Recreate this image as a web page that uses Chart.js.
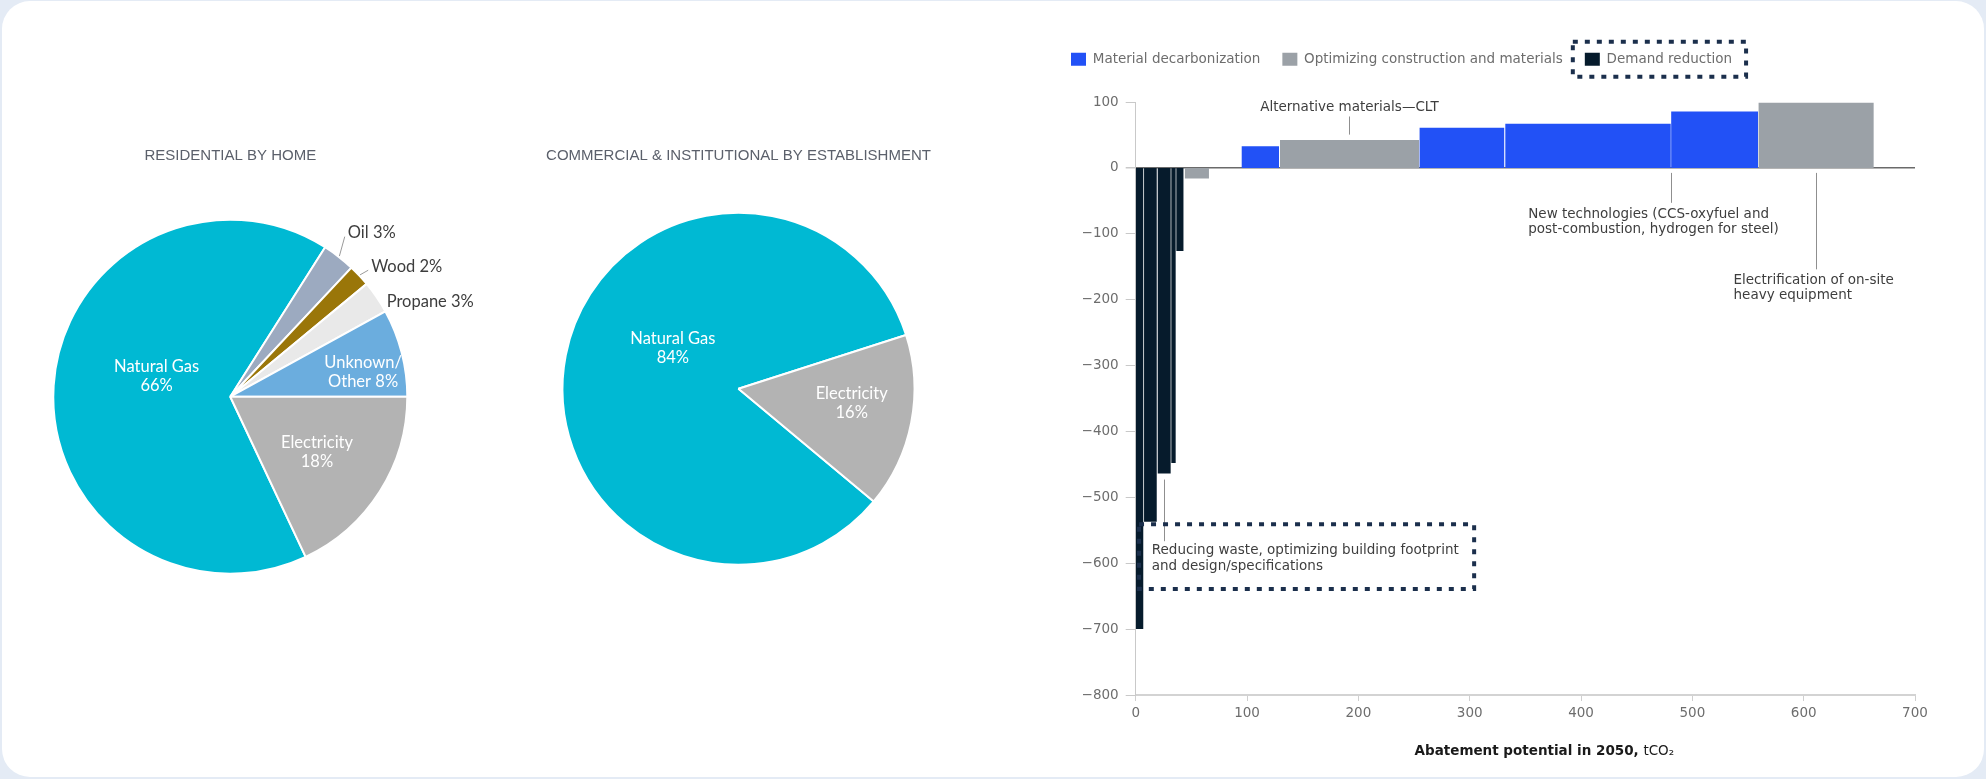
<!DOCTYPE HTML>
<html>
<head>
  <meta charset="utf-8">
  <script src="https://cdn.jsdelivr.net/npm/chart.js"></script>
  <style>
    body { margin: 0; width: 1986px; height: 779px; overflow: hidden; background: #e4ebf5; }
    .card { position: absolute; left: 2px; top: 1px; right: 2px; bottom: 2px; background: #fff; border-radius: 28px; }
    canvas { position: absolute; }
  </style>
  <script>
    // Heating fuel shares, residential (by home)
    const resLabels = ['Natural Gas', 'Oil', 'Wood', 'Propane', 'Unknown/Other', 'Electricity'];
    const resShares = [66, 3, 2, 3, 8, 18];
    const resColors = ['#00b9d3', '#9caac0', '#9a7609', '#e9e9e9', '#6badde', '#b3b3b3'];

    // Heating fuel shares, commercial & institutional (by establishment)
    const comLabels = ['Natural Gas', 'Electricity'];
    const comShares = [84, 16];
    const comColors = ['#00b9d3', '#b3b3b3'];

    // Abatement levers: lever group, start and end on the abatement axis, cost per tCO2
    const leverGroups = ['Material decarbonization', 'Optimizing construction and materials', 'Demand reduction'];
    const groupColors = ['#2251f6', '#9ba1a7', '#061b2c'];
    const barGroup = [2, 2, 2, 2, 2, 1, 0, 1, 0, 0, 0, 1];
    const barFrom  = [0, 7.5, 19.8, 32, 36.5, 44, 95, 129.6, 255, 332, 481, 559.5];
    const barTo    = [6.8, 18.9, 31.4, 35.9, 43.1, 65.8, 128.7, 254.5, 331, 480.6, 559, 663];
    const barValue = [-700, -537, -464, -448, -126, -16, 33, 42.5, 61, 67, 85.5, 99];

    const yTicks = [100, 0, -100, -200, -300, -400, -500, -600, -700, -800];

    // callouts placed in axis units
    const notes = [
      { lines: ['Alternative materials\u2014CLT'], x: 192, y: 91, align: 'center', at: 192, from: 50.5, to: 78 },
      { lines: ['New technologies (CCS-oxyfuel and', 'post-combustion, hydrogen for steel)'], x: 352.6, y: -70, align: 'left', at: 480.6, from: -7.6, to: -53 },
      { lines: ['Electrification of on-site', 'heavy equipment'], x: 537, y: -170.6, align: 'left', at: 611.5, from: -7.6, to: -154 },
      { lines: ['Reducing waste, optimizing building footprint', 'and design/specifications'], x: 14.4, y: -580.7, align: 'left', at: 25.6, from: -473, to: -566.6 }
    ];

    const BAR_FONT = '"DejaVu Sans"';

    function sliceLabels(place) {
      return {
        id: 'sliceLabels',
        afterDatasetsDraw(chart) {
          const ctx = chart.ctx;
          const arcs = chart.getDatasetMeta(0).data;
          const names = chart.data.labels;
          const shares = chart.data.datasets[0].data;
          ctx.save();
          ctx.font = '16.5px Lato';
          ctx.textBaseline = 'middle';
          arcs.forEach((arc, i) => {
            const p = place[i];
            const mid = (arc.startAngle + arc.endAngle) / 2;
            const ang = mid + p.shift * Math.PI / 180;
            const tx = arc.x + Math.cos(ang) * arc.outerRadius * p.r;
            const ty = arc.y + Math.sin(ang) * arc.outerRadius * p.r;
            let lines;
            if (p.mode === 'stack') {
              lines = [names[i], shares[i] + '%'];
            } else if (p.mode === 'wrap') {
              const parts = names[i].split('/');
              lines = [parts[0] + '/', parts[1] + ' ' + shares[i] + '%'];
            } else {
              lines = [names[i] + ' ' + shares[i] + '%'];
            }
            if (p.mode === 'out') {
              ctx.fillStyle = '#3d3d3d';
              ctx.textAlign = 'left';
              if (p.leader) {
                ctx.strokeStyle = '#9a9a9a';
                ctx.lineWidth = 1;
                ctx.beginPath();
                ctx.moveTo(arc.x + Math.cos(mid) * (arc.outerRadius + 1), arc.y + Math.sin(mid) * (arc.outerRadius + 1));
                ctx.lineTo(tx - 3, ty + 4);
                ctx.stroke();
              }
            } else {
              ctx.fillStyle = '#ffffff';
              ctx.textAlign = 'center';
            }
            lines.forEach((t, k) => ctx.fillText(t, tx, ty + (k - (lines.length - 1) / 2) * 19));
          });
          ctx.restore();
        }
      };
    }

    function pieOptions(title, rotation, padding, titleBottom) {
      return {
        responsive: false,
        animation: false,
        events: [],
        rotation: rotation,
        layout: { padding: padding },
        elements: { arc: { borderColor: '#ffffff', borderWidth: 2, offset: 0, hoverOffset: 0 } },
        plugins: {
          legend: { display: false },
          tooltip: { enabled: false },
          title: {
            display: true,
            text: title,
            color: '#5b606b',
            font: { family: '"Liberation Sans"', size: 15, weight: 'normal' },
            padding: { top: 7.3, bottom: titleBottom }
          }
        }
      };
    }

    function drawPies() {
      new Chart(document.getElementById('resPie'), {
        type: 'pie',
        data: { labels: resLabels, datasets: [{ data: resShares, backgroundColor: resColors }] },
        options: pieOptions('RESIDENTIAL BY HOME', 90 + 3.6 * 18, { left: 32.3, right: 91.7, top: 0, bottom: 5.3 }, 53.4),
        plugins: [sliceLabels([
          { mode: 'stack', r: 0.432, shift: 11.9 },
          { mode: 'out', r: 1.14, shift: -2.2, leader: true },
          { mode: 'out', r: 1.085, shift: 0.4, leader: true },
          { mode: 'out', r: 1.035, shift: 2.8 },
          { mode: 'wrap', r: 0.763, shift: 3.9 },
          { mode: 'stack', r: 0.58, shift: 0 }
        ])]
      });

      new Chart(document.getElementById('comPie'), {
        type: 'pie',
        data: { labels: comLabels, datasets: [{ data: comShares, backgroundColor: comColors }] },
        options: pieOptions('COMMERCIAL & INSTITUTIONAL BY ESTABLISHMENT', 129.8, { left: 0, right: 0, top: 0, bottom: 14.2 }, 46.5),
        plugins: [sliceLabels([
          { mode: 'stack', r: 0.44, shift: 21 },
          { mode: 'stack', r: 0.648, shift: -3.9 }
        ])]
      });
    }

    // each lever group becomes one stepped outline filled down to zero
    function leverDatasets() {
      return leverGroups.map((name, g) => {
        const pts = [];
        barGroup.forEach((grp, i) => {
          if (grp !== g) return;
          pts.push({ x: barFrom[i], y: 0 }, { x: barFrom[i], y: barValue[i] },
                   { x: barTo[i], y: barValue[i] }, { x: barTo[i], y: 0 });
        });
        return {
          label: name,
          data: pts,
          fill: 'origin',
          backgroundColor: groupColors[g],
          borderColor: 'rgba(0,0,0,0)',
          borderWidth: 0,
          pointRadius: 0,
          tension: 0
        };
      });
    }

    const legendRoom = {
      id: 'legendRoom',
      beforeInit(chart) {
        const fit = chart.legend.fit;
        chart.legend.fit = function () {
          fit.call(this);
          this.height = 71.5;
        };
      }
    };

    function dottedRect(ctx, x, y, w, h) {
      ctx.save();
      ctx.strokeStyle = '#1b2f4c';
      ctx.lineWidth = 4;
      ctx.setLineDash([5, 7]);
      ctx.strokeRect(x, y, w, h);
      ctx.restore();
    }

    const callouts = {
      id: 'callouts',
      afterDatasetsDraw(chart) {
        const { ctx, scales: { x, y } } = chart;
        ctx.save();
        ctx.font = '13.5px ' + BAR_FONT;
        ctx.fillStyle = '#3e3e3e';
        ctx.strokeStyle = '#8f8f8f';
        ctx.lineWidth = 1;
        ctx.textBaseline = 'middle';
        notes.forEach(n => {
          const lx = Math.round(x.getPixelForValue(n.at)) + 0.5;
          ctx.beginPath();
          ctx.moveTo(lx, y.getPixelForValue(n.from));
          ctx.lineTo(lx, y.getPixelForValue(n.to));
          ctx.stroke();
          ctx.textAlign = n.align;
          n.lines.forEach((t, k) => ctx.fillText(t, x.getPixelForValue(n.x), y.getPixelForValue(n.y) + k * 15.5));
        });
        ctx.restore();

        // frame around the demand reduction callout
        const x0 = x.getPixelForValue(3), x1 = x.getPixelForValue(304);
        const y0 = y.getPixelForValue(-541), y1 = y.getPixelForValue(-639);
        dottedRect(ctx, x0, y0, x1 - x0, y1 - y0);
      },
      afterDraw(chart) {
        const { ctx, chartArea } = chart;
        // frame around the demand reduction legend entry
        const hb = chart.legend.legendHitBoxes[2];
        dottedRect(ctx, hb.left - 12, hb.top + hb.height / 2 - 17.5, hb.width + 26, 35);

        // axis title: bold lead-in, regular unit
        const bold = 'Abatement potential in 2050, ';
        const unit = 'tCO\u2082';
        ctx.save();
        ctx.textBaseline = 'middle';
        ctx.fillStyle = '#1a1a1a';
        ctx.font = 'bold 13.5px ' + BAR_FONT;
        const wb = ctx.measureText(bold).width;
        ctx.font = '13.5px ' + BAR_FONT;
        const wu = ctx.measureText(unit).width;
        const left = (chartArea.left + chartArea.right) / 2 - (wb + wu) / 2 + 19;
        ctx.textAlign = 'left';
        ctx.font = 'bold 13.5px ' + BAR_FONT;
        ctx.fillText(bold, left, 751);
        ctx.font = '13.5px ' + BAR_FONT;
        ctx.fillText(unit, left + wb, 751);
        ctx.restore();
      }
    };

    function drawLevers() {
      new Chart(document.getElementById('leverChart'), {
        type: 'line',
        data: { datasets: leverDatasets() },
        options: {
          responsive: false,
          animation: false,
          events: [],
          layout: { padding: { top: 30.5, left: 0, right: 30, bottom: 0 } },
          plugins: {
            tooltip: { enabled: false },
            legend: {
              position: 'top',
              align: 'start',
              labels: {
                boxWidth: 15,
                boxHeight: 13,
                padding: 22,
                color: '#6d6d6d',
                font: { family: BAR_FONT, size: 13.5 }
              }
            }
          },
          scales: {
            x: {
              type: 'linear',
              min: 0,
              max: 700,
              afterFit: s => { s.height = 84; },
              ticks: { stepSize: 100, padding: 4, color: '#6d6d6d', font: { family: BAR_FONT, size: 13.5 } },
              grid: { drawOnChartArea: false, tickLength: 6, tickColor: '#cfcfcf' },
              border: { color: '#d3d3d3', width: 2 }
            },
            y: {
              min: -800,
              max: 100,
              afterFit: s => { s.width = 86.7; },
              afterBuildTicks: s => { s.ticks = yTicks.map(v => ({ value: v })); },
              ticks: {
                padding: 7,
                color: '#6d6d6d',
                font: { family: BAR_FONT, size: 13.5 },
                callback: v => (v < 0 ? '\u2212' + Math.abs(v) : String(v))
              },
              grid: {
                tickLength: 10,
                tickColor: '#c9c9c9',
                color: c => (c.tick && c.tick.value === 0 ? '#6a6a6a' : 'rgba(0,0,0,0)'),
                lineWidth: c => (c.tick && c.tick.value === 0 ? 1.5 : 1)
              },
              border: { color: '#c9c9c9', width: 1 }
            }
          }
        },
        plugins: [legendRoom, callouts]
      });
    }

    window.onload = function () {
      drawPies();
      drawLevers();
    };
  </script>
</head>
<body>
  <div class="card"></div>
  <canvas id="resPie" width="480" height="440" style="left:20px;top:140px"></canvas>
  <canvas id="comPie" width="431" height="440" style="left:523px;top:140px"></canvas>
  <canvas id="leverChart" width="896" height="779" style="left:1049px;top:0px"></canvas>
</body>
</html>
